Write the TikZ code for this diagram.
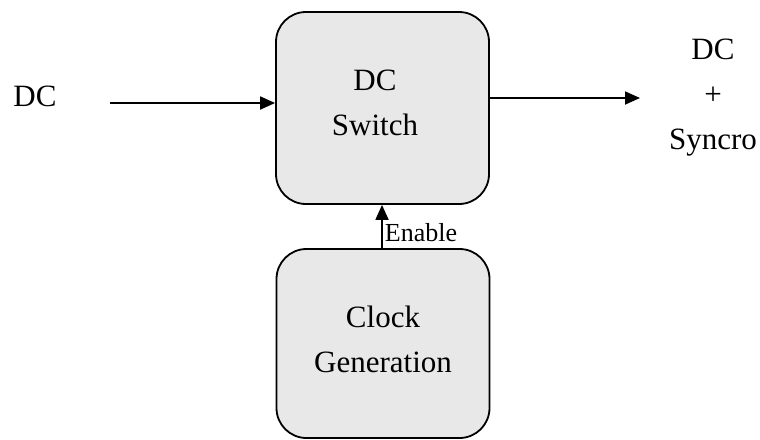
\documentclass[tikz,border=0pt]{standalone}
\usepackage{fontspec}
\setmainfont{Liberation Serif}
\usetikzlibrary{arrows.meta}
\definecolor{boxfill}{HTML}{E8E8E8}
\tikzset{
  blockbox/.style={draw=black, line width=1.8pt, fill=boxfill, rounded corners=30pt,
    minimum width=213pt, inner sep=0pt},
  lbl/.style={inner sep=0pt, align=center, font=\fontsize{31}{45}\selectfont},
  conn/.style={line width=1.8pt, -{Triangle[length=15pt,width=13pt]}},
}
\begin{document}
\begin{tikzpicture}[x=1pt,y=-1pt]
\useasboundingbox (0,0) rectangle (760,439);
\node[blockbox, minimum height=192pt] (sw) at (382.5,108) {};
\node[lbl] (swtext) at ([xshift=-7.5pt,yshift=5pt]sw.center) {DC\\Switch};
\node[blockbox, minimum height=189pt] (clk) at (383,343.5) {};
\node[lbl] (clktext) at ([yshift=4pt]clk.center) {Clock\\Generation};
\node[lbl] (din) at (35,96) {DC};
\node[lbl] (dout) at (713,97.5) {DC\\+\\Syncro};
\coordinate (inStart) at (110,103);
\coordinate (inEnd) at (sw.west |- inStart);
\coordinate (outStart) at (sw.east |- 0,98);
\coordinate (outEnd) at (640,98);
\draw[conn] (inStart) -- (inEnd);
\draw[conn] (outStart) -- (outEnd);
\draw[conn] (clk.north -| 382,0) -- (sw.south -| 382,0)
  node[pos=0.36, right, inner sep=0pt, xshift=2pt, font=\fontsize{26}{30}\selectfont] (en) {Enable};
\end{tikzpicture}
\end{document}
